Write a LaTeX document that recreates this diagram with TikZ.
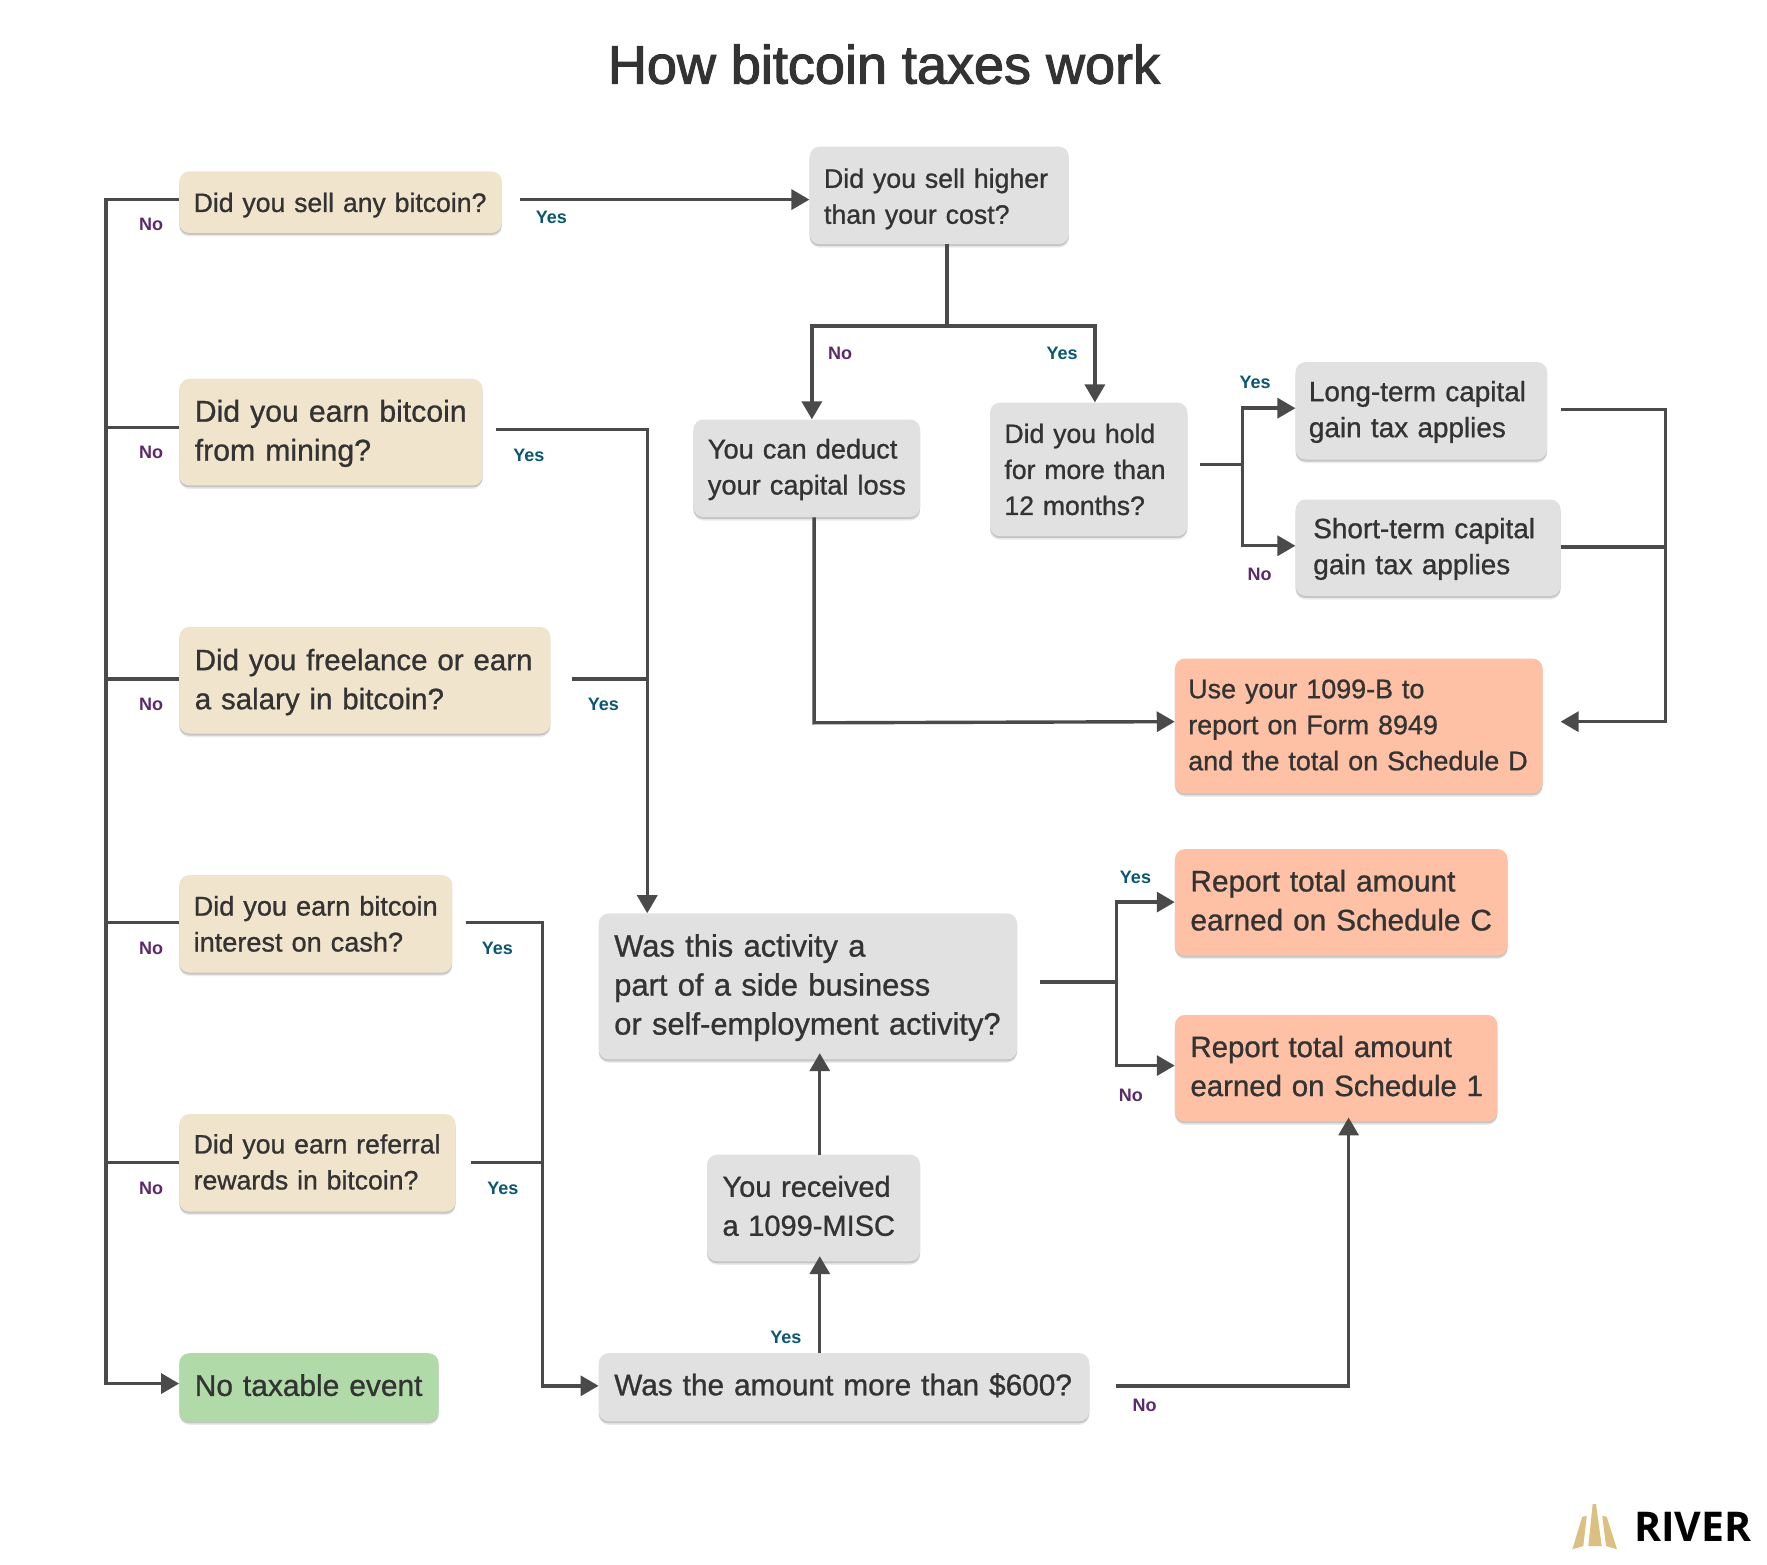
\documentclass[tikz,border=0pt]{standalone}
\usepackage{fontspec}
\setmainfont{Liberation Sans}[FakeBold=0.9]
\newfontfamily\titlefont{Liberation Sans}[FakeBold=2]
\newfontfamily\lblfont{Liberation Sans}
\newfontfamily\riverfont{Open Sans}
\usetikzlibrary{arrows.meta,shadows,calc}
\definecolor{beige}{HTML}{F1E4CC}
\definecolor{graybox}{HTML}{E1E1E1}
\definecolor{orangebox}{HTML}{FFC1A6}
\definecolor{greenbox}{HTML}{B0DBA9}
\definecolor{linec}{HTML}{4A4A4A}
\definecolor{textc}{HTML}{333333}
\definecolor{noc}{HTML}{5B2A6B}
\definecolor{yesc}{HTML}{0B5670}
\definecolor{gold}{HTML}{DCC082}
\tikzset{
  boxbase/.style={rounded corners=10pt,inner xsep=15.5pt,inner ysep=0pt,align=left,text=textc,
    drop shadow={shadow xshift=0pt,shadow yshift=-3.5pt,fill=black,opacity=.08},
    drop shadow={shadow xshift=0pt,shadow yshift=-2pt,fill=black,opacity=.16}},
  small/.style={font=\fontsize{#1}{36}\selectfont},
  small/.default=26.6,
  big/.style={font=\fontsize{#1}{39}\selectfont},
  big/.default=30.2,
  tx/.style={text width={\tw-2*(#1)},inner xsep={15.5pt+(#1)}},
  tdown/.style={execute at begin node={\rule{0pt}{\dimexpr.73em+#1\relax}}},
  tup/.style={execute at end node={\rule[-#1]{0pt}{#1}}},
  conn/.style={draw=linec,line width=3.4pt,line join=miter},
  arr/.style={conn,-{Triangle[width=20pt,length=18pt]}},
  nolbl/.style={text=noc,font=\fontsize{18}{20}\selectfont\lblfont\bfseries,inner sep=0pt},
  yeslbl/.style={text=yesc,font=\fontsize{18}{20}\selectfont\lblfont\bfseries,inner sep=0pt},
}
\newcommand{\bx}[7]{%
  \pgfmathsetlengthmacro{\bw}{(#4-#2)*1.1276pt}%
  \pgfmathsetlengthmacro{\bh}{(#5-#3-1.5)*1.1276pt}%
  \pgfmathsetlengthmacro{\tw}{\bw-31pt}%
  \node[boxbase,fill=#1,minimum width=\bw,minimum height=\bh,text width=\tw,#6] (#7) at ({(#2+#4)/2},{(#3+#5)/2-0.7})}
\begin{document}
\begin{tikzpicture}[x=1.1276pt,y=-1.1276pt]
\useasboundingbox (0pt,0pt) rectangle (1767pt,-1564pt);
\fill[white] (0pt,0pt) rectangle (1767pt,-1564pt);
\node[text=textc,font=\fontsize{54}{60}\selectfont\titlefont,inner sep=0pt] (title) at (784,57) {How bitcoin taxes work};

\bx{beige}{159}{152}{445}{208}{small,tx=-1.1pt,tdown=5.6pt}{A} {\mbox{Did you sell any bitcoin?}};
\bx{beige}{159}{336}{428}{432}{big,tdown=2.2pt}{B} {\mbox{Did you earn bitcoin}\\\mbox{from mining?}};
\bx{beige}{159}{556}{488}{652}{big=29.5,tdown=3.4pt}{C} {\mbox{Did you freelance or earn}\\\mbox{a salary in bitcoin?}};
\bx{beige}{159}{776}{401}{864}{small=27.1,tx=-1.1pt}{D} {\mbox{Did you earn bitcoin}\\\mbox{interest on cash?}};
\bx{beige}{159}{988}{404}{1076}{small,tx=-1.1pt,tup=2.2pt}{E} {\mbox{Did you earn referral}\\\mbox{rewards in bitcoin?}};
\bx{greenbox}{159}{1200}{389}{1262}{big=29.9,tup=4.5pt}{F} {\mbox{No taxable event}};
\bx{graybox}{718}{130}{948}{218}{small=26.7,tx=-1.1pt,tdown=6.8pt}{G} {\mbox{Did you sell higher}\\\mbox{than your cost?}};
\bx{graybox}{615}{372}{816}{460}{small=27.2,tx=-1.1pt,tdown=2.2pt}{H} {\mbox{You can deduct}\\\mbox{your capital loss}};
\bx{graybox}{878}{357}{1053}{477}{small,tx=-1.1pt}{I} {\mbox{Did you hold}\\\mbox{for more than}\\\mbox{12 months?}};
\bx{graybox}{1149}{321}{1372}{409}{small=27.9,tx=-2.2pt,tdown=2.2pt}{J} {\mbox{Long-term capital}\\\mbox{gain tax applies}};
\bx{graybox}{1149}{443}{1384}{530}{small=27.9,tx=2.2pt,tdown=2.2pt}{K} {\mbox{Short-term capital}\\\mbox{gain tax applies}};
\bx{orangebox}{1042}{584}{1368}{705}{small=26.9,tx=-2.2pt,tup=2.2pt}{L} {\mbox{Use your 1099-B to}\\\mbox{report on Form 8949}\\\mbox{and the total on Schedule D}};
\bx{graybox}{531}{810}{902}{941}{big=30.9,tdown=2.2pt}{M} {\mbox{Was this activity a}\\\mbox{part of a side business}\\\mbox{or self-employment activity?}};
\bx{orangebox}{1042}{753}{1337}{849}{big=29.8,tup=4.5pt}{N} {\mbox{Report total amount}\\\mbox{earned on Schedule C}};
\bx{orangebox}{1042}{900}{1328}{996}{big=29.4,tup=4.5pt}{O} {\mbox{Report total amount}\\\mbox{earned on Schedule 1}};
\bx{graybox}{627}{1024}{816}{1120}{big=29,tup=4.5pt}{P} {\mbox{You received}\\\mbox{a 1099-MISC}};
\bx{graybox}{531}{1200}{966}{1262}{big=29.8,tup=6.1pt}{Q} {\mbox{Was the amount more than \$600?}};

% named routing points
\coordinate (tA) at (94,177);
\coordinate (tB) at (94,379);
\coordinate (tC) at (94,602);
\coordinate (tD) at (94,818);
\coordinate (tE) at (94,1031);
\coordinate (tF) at (94,1227);
\coordinate (ayes) at (461,177);
\coordinate (gdown) at (840,289);
\coordinate (gl) at (720,289);
\coordinate (gr) at (971,289);
\coordinate (byes) at (440,381);
\coordinate (bturn) at (574,381);
\coordinate (cyes) at (507,602);
\coordinate (cjoin) at (574,602);
\coordinate (dyes) at (413,818);
\coordinate (dturn) at (481,818);
\coordinate (eyes) at (418,1031);
\coordinate (ejoin) at (481,1031);
\coordinate (qin) at (481,1229);
\coordinate (hturn) at (722,641);
\coordinate (hend) at (1042,640);
\coordinate (iout) at (1064,412);
\coordinate (isplit) at (1102,412);
\coordinate (iup) at (1102,362);
\coordinate (idn) at (1102,484);
\coordinate (jout) at (1384,363);
\coordinate (jturn) at (1477,363);
\coordinate (kout) at (1384,485);
\coordinate (kjoin) at (1477,485);
\coordinate (lturn) at (1477,640);
\coordinate (lin) at (1384,640);
\coordinate (mout) at (922,871);
\coordinate (msplit) at (990,871);
\coordinate (mup) at (990,800);
\coordinate (mdn) at (990,945);
\coordinate (mtip) at (727,934);
\coordinate (ptip) at (727,1114);
\coordinate (qout) at (990,1229);
\coordinate (qturn) at (1196,1229);
\coordinate (otip) at (1196,991);

\draw[arr] (A.west |- tA) -- (tA) -- (tF) -- (F.west |- tF);
\draw[conn] (B.west |- tB) -- (tB);
\draw[conn] (C.west |- tC) -- (tC);
\draw[conn] (D.west |- tD) -- (tD);
\draw[conn] (E.west |- tE) -- (tE);
\draw[arr] (ayes) -- (G.west |- ayes);
\draw[conn] (G.south -| gdown) -- (gdown);
\draw[arr] (gdown) -- (gl) -- (gl |- H.north);
\draw[arr] (gdown) -- (gr) -- (gr |- I.north);
\draw[arr] (byes) -- (bturn) -- (bturn |- M.north);
\draw[conn] (cyes) -- (cjoin);
\draw[arr] (dyes) -- (dturn) -- (qin) -- (Q.west |- qin);
\draw[conn] (eyes) -- (ejoin);
\draw[arr] (H.south -| hturn) -- (hturn) -- (L.west |- hend);
\draw[conn] (iout) -- (isplit);
\draw[arr] (isplit) -- (iup) -- (J.west |- iup);
\draw[arr] (isplit) -- (idn) -- (K.west |- idn);
\draw[arr] (jout) -- (jturn) -- (lturn) -- (lin);
\draw[conn] (kout) -- (kjoin);
\draw[conn] (mout) -- (msplit);
\draw[arr] (msplit) -- (mup) -- (N.west |- mup);
\draw[arr] (msplit) -- (mdn) -- (O.west |- mdn);
\draw[arr] (P.north -| mtip) -- (mtip);
\draw[arr] (Q.north -| ptip) -- (ptip);
\draw[arr] (qout) -- (qturn) -- (otip);

\node[nolbl] (n1) at (134,199) {No};
\node[nolbl] (n2) at (134,401) {No};
\node[nolbl] (n3) at (134,625) {No};
\node[nolbl] (n4) at (134,841) {No};
\node[nolbl] (n5) at (134,1054) {No};
\node[nolbl] (n6) at (745,313) {No};
\node[nolbl] (n7) at (1117,509) {No};
\node[nolbl] (n8) at (1003,971) {No};
\node[nolbl] (n9) at (1015,1246) {No};
\node[yeslbl] (y1) at (489,193) {Yes};
\node[yeslbl] (y2) at (469,404) {Yes};
\node[yeslbl] (y3) at (535,625) {Yes};
\node[yeslbl] (y4) at (441,841) {Yes};
\node[yeslbl] (y5) at (446,1054) {Yes};
\node[yeslbl] (y6) at (942,313) {Yes};
\node[yeslbl] (y7) at (1113,339) {Yes};
\node[yeslbl] (y8) at (1007,778) {Yes};
\node[yeslbl] (y9) at (697,1186) {Yes};

% logo
\fill[gold] (1588.3pt,-1546pt) -- (1601.7pt,-1546pt) -- (1596pt,-1504pt) -- (1592.7pt,-1504pt) -- cycle;
\fill[gold] (1572.3pt,-1549.3pt) -- (1583.3pt,-1546pt) -- (1586.7pt,-1516pt) -- (1582.3pt,-1516.7pt) -- cycle;
\fill[gold] (1602.3pt,-1516pt) -- (1606.7pt,-1516.7pt) -- (1617pt,-1549.3pt) -- (1606pt,-1546pt) -- cycle;
\node[anchor=base west,inner sep=0pt,text=black,font=\fontsize{41}{41}\selectfont\riverfont\bfseries] (river) at (1634pt,-1541pt) {RIVER};
\end{tikzpicture}
\end{document}
